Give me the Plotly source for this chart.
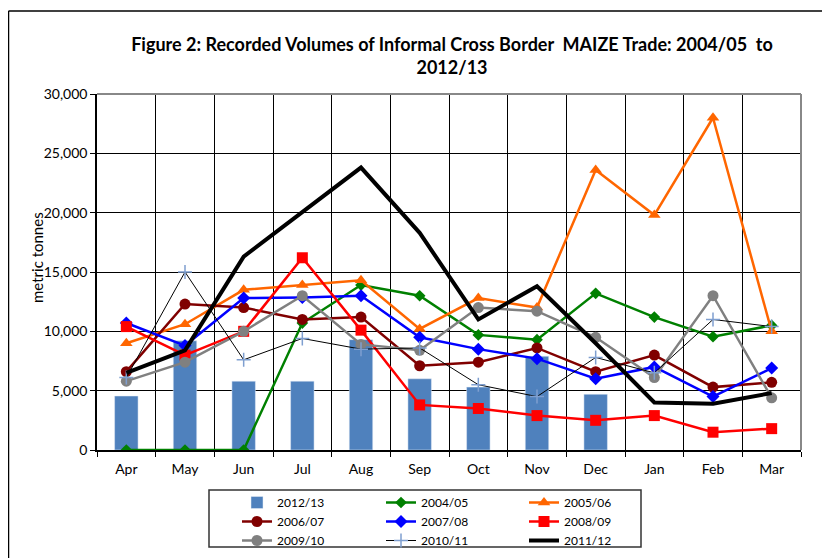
import plotly.graph_objects as go

months = ["Apr", "May", "Jun", "Jul", "Aug", "Sep", "Oct", "Nov", "Dec", "Jan", "Feb", "Mar"]

s2012_13 = [4550, 9200, 5800, 5800, 9300, 6000, 5300, 7900, 4700, None, None, None]
s2004_05 = [0, 0, 0, 10700, 13900, 13000, 9700, 9300, 13200, 11200, 9550, 10500]
s2005_06 = [9000, 10600, 13500, 13900, 14300, 10200, 12800, 12000, 23600, 19800, 28000, 10000]
s2006_07 = [6600, 12300, 12000, 11000, 11200, 7100, 7400, 8600, 6600, 8000, 5300, 5700]
s2007_08 = [10700, 8800, 12800, 12850, 13000, 9500, 8500, 7700, 6000, 7000, 4500, 6900]
s2008_09 = [10400, 8000, 10000, 16200, 10100, 3800, 3500, 2900, 2500, 2900, 1500, 1800]
s2009_10 = [5800, 7400, 10000, 13000, 8900, 8400, 12000, 11700, 9500, 6100, 13000, 4400]
s2010_11 = [6100, 15000, 7600, 9400, 8500, 8600, 5500, 4500, 7800, 6500, 11000, 10400]
s2011_12 = [6500, 8400, 16300, 20000, 23800, 18300, 11000, 13800, 9000, 4000, 3900, 4800]

FONT = "Lato"
fig = go.Figure()

fig.add_trace(go.Bar(x=months, y=s2012_13, name="2012/13", marker_color="#4F81BD",
                     width=0.4, legend="legend"))

def line(y, name, color, width, symbol=None, size=0, mcolor=None, leg="legend"):
    mode = "lines+markers" if symbol else "lines"
    kw = dict(x=months, y=y, name=name, mode=mode, legend=leg,
              line=dict(color=color, width=width))
    if symbol:
        kw["marker"] = dict(symbol=symbol, size=size, color=mcolor or color,
                            line=dict(width=0 if "thin" not in symbol else 1.5,
                                      color=mcolor or color))
    fig.add_trace(go.Scatter(**kw))

line(s2004_05, "2004/05", "#008000", 2.5, "diamond", 9, leg="legend2")
line(s2005_06, "2005/06", "#FF6600", 2.5, "triangle-up", 11, leg="legend3")
line(s2006_07, "2006/07", "#800000", 2.5, "circle", 11, leg="legend")
line(s2007_08, "2007/08", "#0000FF", 2.5, "diamond", 10, leg="legend2")
line(s2008_09, "2008/09", "#FF0000", 2.5, "square", 11, leg="legend3")
line(s2009_10, "2009/10", "#808080", 2.5, "circle", 11, leg="legend")
line(s2010_11, "2010/11", "#000000", 1, "cross-thin", 10, mcolor="#7F9FD0", leg="legend2")
line(s2011_12, "2011/12", "#000000", 4, None, leg="legend3")

# page body has an 8px margin: work in screen coordinates and convert
OFF = 8
W, H = 822, 550
SL, SR, ST, SB = 97, 801, 94, 450          # plot area in screen pixels
L, R, T, B = SL - OFF, SR - OFF, ST - OFF, SB - OFF
pw, ph = R - L, B - T

def px(x):   # screen x -> paper
    return (x - OFF - L) / pw

def py(y):   # screen y -> paper
    return (B - (y - OFF)) / ph

leg_common = dict(xanchor="left", yanchor="top", orientation="v", borderwidth=0,
                  bgcolor="rgba(0,0,0,0)", font=dict(family=FONT, size=12, color="#000"),
                  tracegroupgap=0, itemwidth=30)

fig.update_layout(
    width=W, height=H,
    margin=dict(l=L, r=W - R, t=T, b=H - B, autoexpand=False),
    paper_bgcolor="white", plot_bgcolor="white",
    font=dict(family=FONT, size=12, color="#000"),
    barmode="overlay",
    showlegend=True,
    title=dict(text="<b>Figure 2: Recorded Volumes of Informal Cross Border&nbsp; MAIZE Trade: 2004/05&nbsp; to<br>2012/13</b>",
               x=(452 - OFF) / W, xref="container", xanchor="center",
               y=1 - 43 / H, yref="container", yanchor="top",
               font=dict(family=FONT, size=18, color="#000")),
    legend=dict(x=px(237), y=py(488), **leg_common),
    legend2=dict(x=px(381), y=py(488), **leg_common),
    legend3=dict(x=px(524), y=py(488), **leg_common),
    xaxis=dict(range=[-0.5, 11.5], showgrid=True, gridcolor="#000", gridwidth=1,
               tickson="boundaries", ticks="outside", ticklen=5, tickcolor="#000",
               showline=True, linecolor="#000", linewidth=1.5, ticklabelstandoff=5,
               tickfont=dict(size=14, family=FONT)),
    yaxis=dict(range=[0, 30000], dtick=5000, tickformat=",", showgrid=True,
               gridcolor="#000", gridwidth=1, zeroline=False, ticks="outside",
               ticklen=5, tickcolor="#000", showline=True, linecolor="#000",
               linewidth=1.5, tickfont=dict(size=14, family=FONT)),
    shapes=[
        dict(type="line", xref="paper", yref="paper", x0=0, x1=1, y0=1, y1=1,
             line=dict(color="#888", width=2)),
        dict(type="line", xref="paper", yref="paper", x0=1, x1=1, y0=0, y1=1,
             line=dict(color="#888", width=2)),
        dict(type="rect", xref="paper", yref="paper", x0=px(209), x1=px(641),
             y0=py(547), y1=py(490), line=dict(color="#333", width=1.5)),
        dict(type="line", xref="paper", yref="paper", x0=px(8.5), x1=px(840),
             y0=py(11), y1=py(11), line=dict(color="#000", width=1.5)),
        dict(type="line", xref="paper", yref="paper", x0=px(8.5), x1=px(8.5),
             y0=py(11), y1=py(600), line=dict(color="#000", width=1.5)),
    ],
    annotations=[
        dict(text="metric tonnes", xref="paper", yref="paper", x=px(37), y=py(258),
             showarrow=False, textangle=-90, font=dict(family=FONT, size=15, color="#000"),
             xanchor="center", yanchor="middle"),
    ],
)

fig.write_html("out.html")
